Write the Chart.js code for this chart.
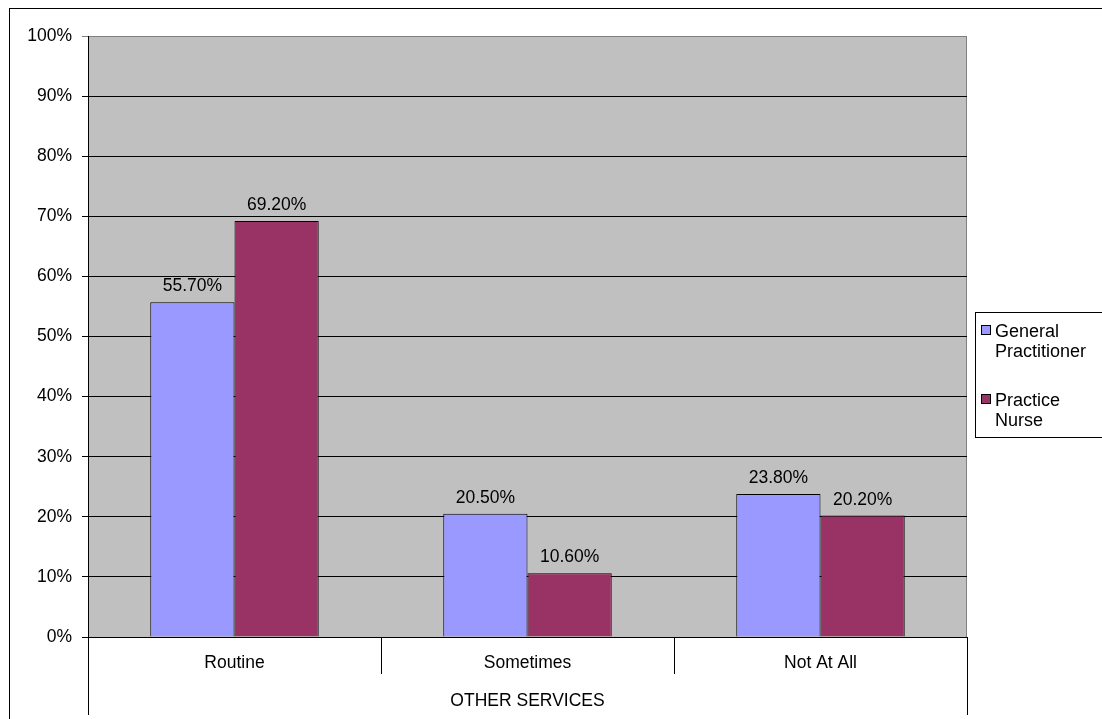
<!DOCTYPE html>
<html>
<head>
<meta charset="utf-8">
<script src="https://cdn.jsdelivr.net/npm/chart.js@4/dist/chart.umd.min.js"></script>
<style>
  html, body { margin: 0; padding: 0; background: #ffffff; }
  #wrap { position: relative; width: 1102px; height: 719px; }
</style>
</head>
<body>
<div id="wrap"><canvas id="chart" width="1102" height="719"></canvas></div>
<script>
// Survey results: how often other services are offered
const categories = ['Routine', 'Sometimes', 'Not At All'];
const groupTitle = 'OTHER SERVICES';
const generalPractitioner = [55.7, 20.5, 23.8];
const practiceNurse = [69.2, 10.6, 20.2];
const seriesNames = [['General', 'Practitioner'], ['Practice', 'Nurse']];
const seriesColors = ['#9999FF', '#993366'];
const yTicks = [0, 10, 20, 30, 40, 50, 60, 70, 80, 90, 100];

const FONT = 'Liberation Sans, Arial, sans-serif';
const FONT_SIZE = 17.5;
const LEGEND_FONT_SIZE = 18;

// Gray plot background with a thin gray frame on top and right
const plotBackground = {
  id: 'plotBackground',
  beforeDraw(chart) {
    const { ctx, chartArea: a } = chart;
    ctx.save();
    ctx.fillStyle = '#C0C0C0';
    ctx.fillRect(a.left, a.top, a.right - a.left, a.bottom - a.top);
    ctx.strokeStyle = '#808080';
    ctx.lineWidth = 1;
    ctx.beginPath();
    ctx.moveTo(a.left, a.top + 0.5);
    ctx.lineTo(a.right - 0.5, a.top + 0.5);
    ctx.lineTo(a.right - 0.5, a.bottom);
    ctx.stroke();
    ctx.restore();
  }
};

// Value labels above each bar
const barValueLabels = {
  id: 'barValueLabels',
  afterDatasetsDraw(chart) {
    const { ctx } = chart;
    ctx.save();
    ctx.font = FONT_SIZE + 'px ' + FONT;
    ctx.fillStyle = '#000';
    ctx.textAlign = 'center';
    ctx.textBaseline = 'alphabetic';
    chart.data.datasets.forEach((ds, di) => {
      chart.getDatasetMeta(di).data.forEach((bar, i) => {
        ctx.fillText(ds.data[i].toFixed(2) + '%', bar.x, bar.y - 11);
      });
    });
    ctx.restore();
  }
};

// Category separators under the axis, outer frame and the legend box
const frameAndLegend = {
  id: 'frameAndLegend',
  afterDraw(chart) {
    const { ctx } = chart;
    const x = chart.scales.x;
    const step = (x.right - x.left) / categories.length;
    ctx.save();
    ctx.strokeStyle = '#000';
    ctx.lineWidth = 1;
    ctx.beginPath();
    for (let i = 0; i <= categories.length; i++) {
      const px = Math.round(x.left + i * step) + 0.5;
      const outer = (i === 0 || i === categories.length);
      ctx.moveTo(px, x.top);
      ctx.lineTo(px, outer ? x.top + 78 : x.top + 37);
    }
    ctx.stroke();

    // outer chart frame
    ctx.strokeRect(9.5, 8.5, 1200, 800);

    // legend
    const lx = 975.5, ly = 312.5;
    ctx.strokeRect(lx, ly, 130, 125);
    ctx.font = LEGEND_FONT_SIZE + 'px ' + FONT;
    ctx.textAlign = 'left';
    ctx.textBaseline = 'alphabetic';
    const baselines = [[337, 357], [406, 426]];
    seriesNames.forEach((lines, i) => {
      const b = baselines[i];
      ctx.fillStyle = seriesColors[i];
      ctx.fillRect(981, b[0] - 11, 9, 9);
      ctx.strokeStyle = '#000';
      ctx.strokeRect(981.5, b[0] - 11.5, 9, 9);
      ctx.fillStyle = '#000';
      lines.forEach((t, j) => ctx.fillText(t, 995, b[j]));
    });
    ctx.restore();
  }
};

new Chart(document.getElementById('chart'), {
  type: 'bar',
  data: {
    labels: categories,
    datasets: [
      { label: seriesNames[0].join(' '), data: generalPractitioner, backgroundColor: seriesColors[0], borderColor: '#000', borderWidth: 1 },
      { label: seriesNames[1].join(' '), data: practiceNurse, backgroundColor: seriesColors[1], borderColor: '#000', borderWidth: 1 }
    ]
  },
  options: {
    responsive: false,
    animation: false,
    events: [],
    layout: { padding: { top: 36, right: 135, left: 0, bottom: 0 } },
    datasets: { bar: { categoryPercentage: 0.575, barPercentage: 1 } },
    plugins: { legend: { display: false }, tooltip: { enabled: false } },
    scales: {
      x: {
        afterFit(s) { s.height = 82; },
        grid: { display: false },
        border: { display: true, color: '#000', width: 1 },
        ticks: { color: '#000', font: { family: FONT, size: FONT_SIZE }, padding: 8 },
        title: { display: true, text: groupTitle, color: '#000', font: { family: FONT, size: FONT_SIZE }, padding: { top: 0, bottom: 7 } }
      },
      y: {
        min: 0,
        max: 100,
        afterFit(s) { s.width = 88; },
        afterBuildTicks(s) { s.ticks = yTicks.map(v => ({ value: v })); },
        grid: {
          color: c => (c.tick && c.tick.value === 100) ? '#808080' : '#000',
          lineWidth: 1,
          tickLength: 6
        },
        border: { display: true, color: '#000', width: 1 },
        ticks: { color: '#000', font: { family: FONT, size: FONT_SIZE }, padding: 10, callback: v => v + '%' }
      }
    }
  },
  plugins: [plotBackground, barValueLabels, frameAndLegend]
});
</script>
</body>
</html>
